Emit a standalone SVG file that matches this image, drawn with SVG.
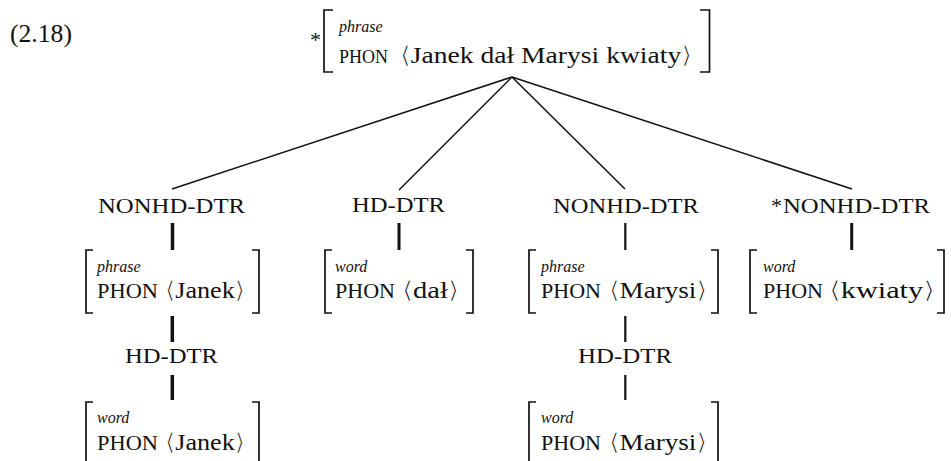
<svg xmlns="http://www.w3.org/2000/svg" width="951" height="461" viewBox="0 0 951 461">
  <style>
    text { font-family: "Liberation Serif", "DejaVu Serif", serif; fill: #111; }
    .num { font-size: 25px; }
    .lbl { font-size: 22px; }
    .type { font-size: 16px; font-style: italic; }
    .feat { font-size: 20px; }
    .val { font-size: 23.5px; }
    .ab { font-family: "DejaVu Sans", sans-serif; stroke: #fff; stroke-width: 0.8px; }
    .ast { font-size: 22px; }
    .brk { fill: none; stroke: #111; stroke-width: 1.7; }
    .edge { stroke: #111; stroke-width: 1.5; fill: none; }
    .bar { stroke: #111; stroke-width: 3; fill: none; }
  </style>

  <text class="num" x="10" y="42" textLength="62" lengthAdjust="spacingAndGlyphs">(2.18)</text>

  <!-- connectors: tree edges and unary bars -->
  <g id="connectors">
    <line class="edge" x1="512" y1="77" x2="172" y2="189"/>
    <line class="edge" x1="512" y1="77" x2="399" y2="190"/>
    <line class="edge" x1="512" y1="77" x2="625" y2="189"/>
    <line class="edge" x1="512" y1="77" x2="852" y2="189"/>
    <line class="bar" x1="172.5" y1="223" x2="172.5" y2="250" style="stroke-width:3.5"/>
    <line class="bar" x1="399" y1="223" x2="399" y2="250"/>
    <line class="bar" x1="625.3" y1="223" x2="625.3" y2="250" style="stroke-width:2.2"/>
    <line class="bar" x1="851.7" y1="223" x2="851.7" y2="250"/>
    <line class="bar" x1="172.3" y1="316" x2="172.3" y2="342" style="stroke-width:3.5"/>
    <line class="bar" x1="172.3" y1="375" x2="172.3" y2="400" style="stroke-width:3.5"/>
    <line class="bar" x1="625.3" y1="316" x2="625.3" y2="342" style="stroke-width:2.2"/>
    <line class="bar" x1="625.3" y1="375" x2="625.3" y2="400" style="stroke-width:2.2"/>
  </g>

  <!-- root: the whole sentence -->
  <g id="root">
    <text class="ast" x="310" y="47">*</text>
    <path class="brk" d="M333,10 H324 V72 H333"/>
    <path class="brk" d="M700,10 H709.5 V72 H700"/>
    <text class="type" x="339" y="32">phrase</text>
    <text class="feat" x="339" y="63" style="font-size:19px" textLength="49" lengthAdjust="spacingAndGlyphs">PHON</text>
    <text class="val" x="400" y="63" textLength="292" lengthAdjust="spacingAndGlyphs"><tspan class="ab">⟨</tspan>Janek dał Marysi kwiaty<tspan class="ab">⟩</tspan></text>
  </g>

  <!-- daughter labels -->
  <g id="lbl-nonhd1">
    <text class="lbl" x="98" y="213" textLength="147" lengthAdjust="spacingAndGlyphs">NONHD-DTR</text>
  </g>
  <g id="lbl-hd">
    <text class="lbl" x="352" y="212" textLength="93" lengthAdjust="spacingAndGlyphs">HD-DTR</text>
  </g>
  <g id="lbl-nonhd2">
    <text class="lbl" x="553" y="213" textLength="146" lengthAdjust="spacingAndGlyphs">NONHD-DTR</text>
  </g>
  <g id="lbl-nonhd3">
    <text class="ast" x="771" y="213">*</text>
    <text class="lbl" x="783" y="213" textLength="147" lengthAdjust="spacingAndGlyphs">NONHD-DTR</text>
  </g>

  <!-- Janek phrase -->
  <g id="janek-phrase">
    <path class="brk" d="M93,250 H86 V313 H93"/>
    <path class="brk" d="M252,250 H259 V313 H252"/>
    <text class="type" x="97" y="272">phrase</text>
    <text class="feat" x="97" y="298" textLength="61" lengthAdjust="spacingAndGlyphs">PHON</text>
    <text class="val" x="165" y="298" textLength="80" lengthAdjust="spacingAndGlyphs"><tspan class="ab">⟨</tspan>Janek<tspan class="ab">⟩</tspan></text>
  </g>

  <!-- dał word -->
  <g id="dal-word">
    <path class="brk" d="M332,250 H325 V313 H332"/>
    <path class="brk" d="M466,250 H473 V313 H466"/>
    <text class="type" x="335" y="272">word</text>
    <text class="feat" x="335" y="298" textLength="60" lengthAdjust="spacingAndGlyphs">PHON</text>
    <text class="val" x="402" y="298" textLength="57" lengthAdjust="spacingAndGlyphs"><tspan class="ab">⟨</tspan>dał<tspan class="ab">⟩</tspan></text>
  </g>

  <!-- Marysi phrase -->
  <g id="marysi-phrase">
    <path class="brk" d="M536,250 H529 V313 H536"/>
    <path class="brk" d="M711,250 H718 V313 H711"/>
    <text class="type" x="541" y="272">phrase</text>
    <text class="feat" x="541" y="298" textLength="60" lengthAdjust="spacingAndGlyphs">PHON</text>
    <text class="val" x="609" y="298" textLength="98" lengthAdjust="spacingAndGlyphs"><tspan class="ab">⟨</tspan>Marysi<tspan class="ab">⟩</tspan></text>
  </g>

  <!-- kwiaty word -->
  <g id="kwiaty-word">
    <path class="brk" d="M757,250 H750 V313 H757"/>
    <path class="brk" d="M937,250 H944 V313 H937"/>
    <text class="type" x="763" y="272">word</text>
    <text class="feat" x="763" y="298" textLength="60" lengthAdjust="spacingAndGlyphs">PHON</text>
    <text class="val" x="829" y="298" textLength="106" lengthAdjust="spacingAndGlyphs"><tspan class="ab">⟨</tspan>kwiaty<tspan class="ab">⟩</tspan></text>
  </g>

  <!-- head daughters of the phrases -->
  <g id="lbl-hd-janek">
    <text class="lbl" x="125" y="363" textLength="93" lengthAdjust="spacingAndGlyphs">HD-DTR</text>
  </g>
  <g id="lbl-hd-marysi">
    <text class="lbl" x="578" y="363" textLength="94" lengthAdjust="spacingAndGlyphs">HD-DTR</text>
  </g>

  <!-- Janek word -->
  <g id="janek-word">
    <path class="brk" d="M93,402 H86 V466"/>
    <path class="brk" d="M252,402 H259 V466"/>
    <text class="type" x="97" y="423">word</text>
    <text class="feat" x="97" y="450" textLength="61" lengthAdjust="spacingAndGlyphs">PHON</text>
    <text class="val" x="165" y="450" textLength="80" lengthAdjust="spacingAndGlyphs"><tspan class="ab">⟨</tspan>Janek<tspan class="ab">⟩</tspan></text>
  </g>

  <!-- Marysi word -->
  <g id="marysi-word">
    <path class="brk" d="M536,402 H529 V466"/>
    <path class="brk" d="M711,402 H718 V466"/>
    <text class="type" x="541" y="423">word</text>
    <text class="feat" x="541" y="450" textLength="60" lengthAdjust="spacingAndGlyphs">PHON</text>
    <text class="val" x="609" y="450" textLength="98" lengthAdjust="spacingAndGlyphs"><tspan class="ab">⟨</tspan>Marysi<tspan class="ab">⟩</tspan></text>
  </g>
</svg>
